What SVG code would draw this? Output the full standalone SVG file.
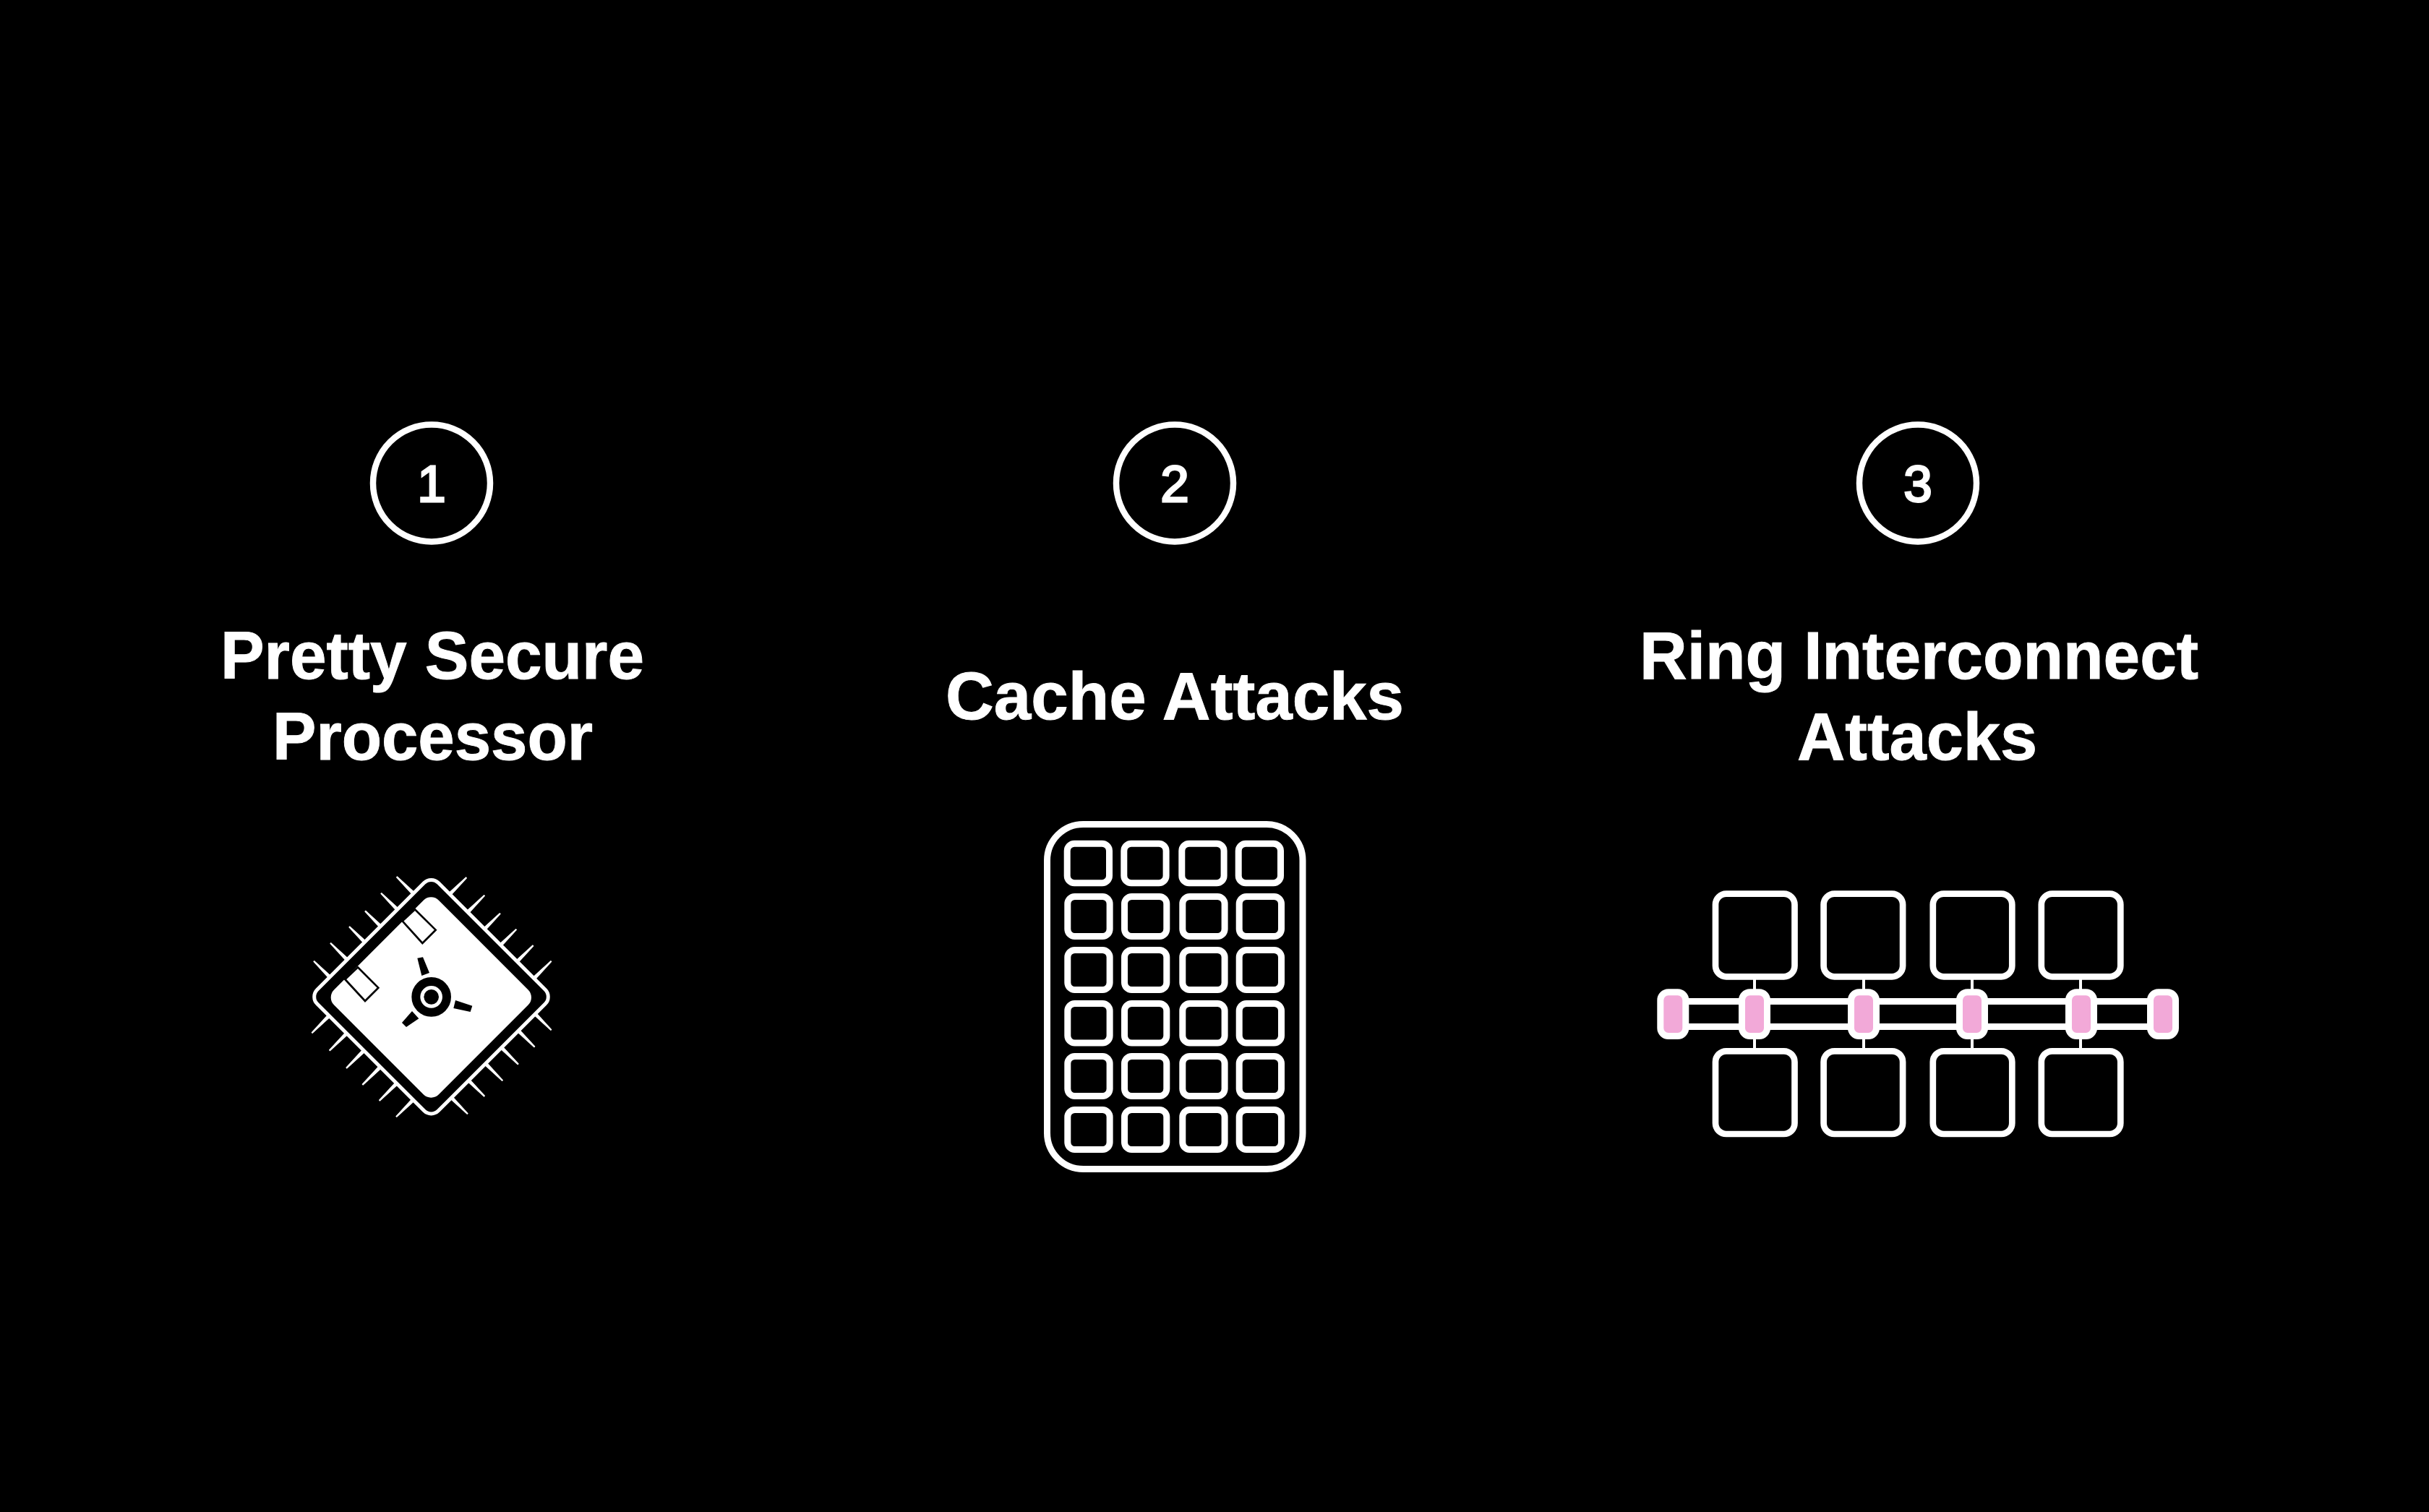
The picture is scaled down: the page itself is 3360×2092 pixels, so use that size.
<svg xmlns="http://www.w3.org/2000/svg" xmlns:xlink="http://www.w3.org/1999/xlink" width="3360" height="2092" viewBox="0 0 3360 2092">
<style>
text{fill:#fff;font-family:"Liberation Sans",Arial,sans-serif;text-anchor:middle}
.t{font-size:92px;font-weight:700;stroke:#fff;stroke-width:1px}
.n{font-size:71px;font-weight:400;stroke:#fff;stroke-width:2.8px}
.badge{fill:none;stroke:#fff;stroke-width:8.5}
.cell{fill:none;stroke:#fff;stroke-width:9}
.core{fill:#000;stroke:#fff;stroke-width:8.7}
.pill{fill:#f2a9d8;stroke:#fff;stroke-width:9}
.rail{stroke:#fff;stroke-width:9;fill:none}
.stub{stroke:#fff;stroke-width:4;fill:none}
</style>
<defs>
<path id="pin" d="M0 -2L100 -6.5L100 6.5L0 2Z" fill="#fff" stroke="#fff" stroke-width="3" stroke-linejoin="round"/>
<rect id="c" width="58.3" height="54.5" rx="10" class="cell"/>
<rect id="c2" width="58.3" height="55" rx="10" class="cell"/>
<rect id="core" width="109.5" height="114.7" rx="15" class="core"/>
<rect id="p" width="35" height="60.7" rx="11" class="pill"/>
</defs>
<rect id="background" width="3360" height="2092" fill="#000"/>

<g id="step-1">
<circle class="badge" cx="597" cy="668.5" r="81"/>
<text class="n" x="597" y="694">1</text>
<text class="t" x="598" y="939" textLength="586" lengthAdjust="spacingAndGlyphs">Pretty Secure</text>
<text class="t" x="598.5" y="1051" textLength="443" lengthAdjust="spacingAndGlyphs">Processor</text>
</g>

<g id="chip" transform="translate(400 1180) scale(.33333)">
<g id="chip-pins">
<use xlink:href="#pin" href="#pin" transform="translate(447 100) rotate(45)"/>
<use xlink:href="#pin" href="#pin" transform="translate(382 168) rotate(45)"/>
<use xlink:href="#pin" href="#pin" transform="translate(316 242) rotate(45)"/>
<use xlink:href="#pin" href="#pin" transform="translate(250 307) rotate(45)"/>
<use xlink:href="#pin" href="#pin" transform="translate(172 375) rotate(45)"/>
<use xlink:href="#pin" href="#pin" transform="translate(103 450) rotate(45)"/>
<use xlink:href="#pin" href="#pin" transform="translate(735 103) rotate(135)"/>
<use xlink:href="#pin" href="#pin" transform="translate(810 177) rotate(135)"/>
<use xlink:href="#pin" href="#pin" transform="translate(875 252) rotate(135)"/>
<use xlink:href="#pin" href="#pin" transform="translate(942 318) rotate(135)"/>
<use xlink:href="#pin" href="#pin" transform="translate(1012 385) rotate(135)"/>
<use xlink:href="#pin" href="#pin" transform="translate(1087 450) rotate(135)"/>
<use xlink:href="#pin" href="#pin" transform="translate(95 747) rotate(315)"/>
<use xlink:href="#pin" href="#pin" transform="translate(168 820) rotate(315)"/>
<use xlink:href="#pin" href="#pin" transform="translate(238 893) rotate(315)"/>
<use xlink:href="#pin" href="#pin" transform="translate(305 962) rotate(315)"/>
<use xlink:href="#pin" href="#pin" transform="translate(375 1028) rotate(315)"/>
<use xlink:href="#pin" href="#pin" transform="translate(445 1095) rotate(315)"/>
<use xlink:href="#pin" href="#pin" transform="translate(1087 735) rotate(225)"/>
<use xlink:href="#pin" href="#pin" transform="translate(1018 805) rotate(225)"/>
<use xlink:href="#pin" href="#pin" transform="translate(950 877) rotate(225)"/>
<use xlink:href="#pin" href="#pin" transform="translate(885 945) rotate(225)"/>
<use xlink:href="#pin" href="#pin" transform="translate(810 1010) rotate(225)"/>
<use xlink:href="#pin" href="#pin" transform="translate(740 1083) rotate(225)"/>
</g>
<rect x="234" y="242" width="711" height="711" rx="42" fill="#000" stroke="#fff" stroke-width="15" transform="rotate(45 589.5 597.5)"/>
<rect x="281.7" y="292.7" width="614.6" height="614.6" rx="45" fill="#fff" transform="rotate(45 589 600)"/>
<path d="M470 283L553 375L608 320L522 235Z" fill="#fff" stroke="#000" stroke-width="8"/>
<path d="M232 525L315 615L370 560L285 475Z" fill="#fff" stroke="#000" stroke-width="8"/>
<circle cx="590" cy="598" r="64" fill="none" stroke="#000" stroke-width="36"/>
<circle cx="590" cy="598" r="31" fill="#000"/>
<path d="M532 437L555 433L582 498L550 510Z M690 612L760 635L752 660L682 645Z M510 657L538 688L486 723L468 705Z" fill="#000"/>
</g>

<g id="step-2">
<circle class="badge" cx="1625" cy="668.5" r="81"/>
<text class="n" x="1625" y="694">2</text>
<text class="t" x="1625" y="995" textLength="634" lengthAdjust="spacingAndGlyphs">Cache Attacks</text>
</g>

<g id="cache">
<rect x="1448.5" y="1140.5" width="353.5" height="477" rx="50" fill="none" stroke="#fff" stroke-width="9"/>
<use xlink:href="#c" href="#c" x="1476.2" y="1167.2"/>
<use xlink:href="#c" href="#c" x="1554.8" y="1167.2"/>
<use xlink:href="#c" href="#c" x="1634.8" y="1167.2"/>
<use xlink:href="#c" href="#c" x="1713.2" y="1167.2"/>
<use xlink:href="#c2" href="#c2" x="1476.8" y="1240.5"/>
<use xlink:href="#c2" href="#c2" x="1555.5" y="1240.5"/>
<use xlink:href="#c2" href="#c2" x="1635.8" y="1240.5"/>
<use xlink:href="#c2" href="#c2" x="1714.2" y="1240.5"/>
<use xlink:href="#c2" href="#c2" x="1476.8" y="1314.5"/>
<use xlink:href="#c2" href="#c2" x="1555.5" y="1314.5"/>
<use xlink:href="#c2" href="#c2" x="1635.8" y="1314.5"/>
<use xlink:href="#c2" href="#c2" x="1714.2" y="1314.5"/>
<use xlink:href="#c" href="#c" x="1476.8" y="1388.5"/>
<use xlink:href="#c" href="#c" x="1555.5" y="1388.5"/>
<use xlink:href="#c" href="#c" x="1635.8" y="1388.5"/>
<use xlink:href="#c" href="#c" x="1714.2" y="1388.5"/>
<use xlink:href="#c2" href="#c2" x="1476.8" y="1461.5"/>
<use xlink:href="#c2" href="#c2" x="1555.5" y="1461.5"/>
<use xlink:href="#c2" href="#c2" x="1635.8" y="1461.5"/>
<use xlink:href="#c2" href="#c2" x="1714.2" y="1461.5"/>
<use xlink:href="#c2" href="#c2" x="1476.8" y="1535.5"/>
<use xlink:href="#c2" href="#c2" x="1555.5" y="1535.5"/>
<use xlink:href="#c2" href="#c2" x="1635.8" y="1535.5"/>
<use xlink:href="#c2" href="#c2" x="1714.2" y="1535.5"/>
</g>

<g id="step-3">
<circle class="badge" cx="2653" cy="668.5" r="81"/>
<text class="n" x="2653" y="694">3</text>
<text class="t" x="2654.5" y="939" textLength="773" lengthAdjust="spacingAndGlyphs">Ring Interconnect</text>
<text class="t" x="2652" y="1051" textLength="332" lengthAdjust="spacingAndGlyphs">Attacks</text>
</g>

<g id="connectors">
<path class="rail" d="M2314 1385.5H2992M2314 1420.5H2992"/>
<path class="stub" d="M2427 1355V1370M2427 1436V1451M2578 1355V1370M2578 1436V1451M2728 1355V1370M2728 1436V1451M2878 1355V1370M2878 1436V1451"/>
</g>

<g id="ring-cores">
<use xlink:href="#core" href="#core" x="2373" y="1236.6"/>
<use xlink:href="#core" href="#core" x="2522.6" y="1236.6"/>
<use xlink:href="#core" href="#core" x="2673.8" y="1236.6"/>
<use xlink:href="#core" href="#core" x="2823.8" y="1236.6"/>
<use xlink:href="#core" href="#core" x="2373" y="1454.3"/>
<use xlink:href="#core" href="#core" x="2522.6" y="1454.3"/>
<use xlink:href="#core" href="#core" x="2673.8" y="1454.3"/>
<use xlink:href="#core" href="#core" x="2823.8" y="1454.3"/>
</g>

<g id="ring-stops">
<use xlink:href="#p" href="#p" x="2296.8" y="1372.8"/>
<use xlink:href="#p" href="#p" x="2409.5" y="1372.8"/>
<use xlink:href="#p" href="#p" x="2560.5" y="1372.8"/>
<use xlink:href="#p" href="#p" x="2710.5" y="1372.8"/>
<use xlink:href="#p" href="#p" x="2861.5" y="1372.8"/>
<use xlink:href="#p" href="#p" x="2974.5" y="1372.8"/>
</g>
</svg>
